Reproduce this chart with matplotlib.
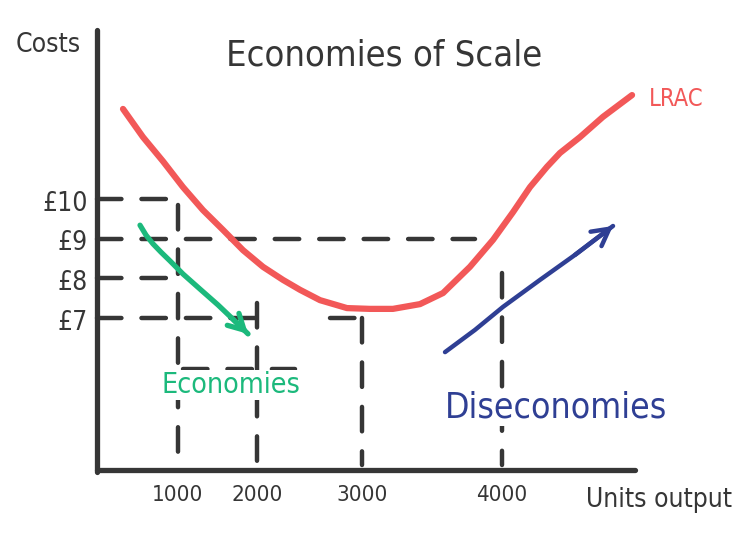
import numpy as np
import matplotlib.pyplot as plt

# values
units_ticks = [1000, 2000, 3000, 4000]
cost_ticks = [10, 9, 8, 7]
cost_labels = ['£10', '£9', '£8', '£7']

# LRAC curve (units, £)
lrac_units = [321, 568, 815, 1063, 1316, 1570, 1823, 2057, 2248, 2410, 2600, 2857,
              3057, 3221, 3414, 3579, 3771, 3936, 4079, 4200, 4321, 4414,
              4557, 4721, 4929]
lrac_cost = [12.27, 11.56, 10.95, 10.30, 9.72, 9.22, 8.71, 8.29, 7.96, 7.71, 7.45, 7.25,
             7.23, 7.23, 7.35, 7.63, 8.29, 8.97, 9.67, 10.30, 10.81, 11.16,
             11.56, 12.07, 12.62]

# arrows
econ_units = [531, 605, 691, 790, 901, 1063, 1278, 1506, 1696, 1886]
econ_cost = [9.34, 9.09, 8.87, 8.66, 8.44, 8.11, 7.73, 7.33, 6.97, 6.60]
dis_units = [3593, 3807, 4007, 4271, 4521, 4793]
dis_cost = [6.14, 6.70, 7.28, 7.96, 8.59, 9.32]

# dashed guide lines as (x0, x1, y0, y1)
guides = [
    (0, 1000, 10, 10), (0, 3807, 9, 9), (0, 1000, 8, 8), (0, 2124, 7, 7),
    (2695, 3000, 7, 7), (1063, 2362, 5.71, 5.71),
    (1000, 1000, 9.85, 3.3), (2000, 2000, 7.38, 3.3),
    (3000, 3000, 7, 3.3), (4000, 4000, 8.13, 3.3),
]

DARK = '#363636'
RED = '#f25858'
GREEN = '#1cb97c'
BLUE = '#2f3f94'

# the hand drawn x axis is not evenly spaced
U_KNOTS = [-2000, 0, 1000, 2000, 3000, 4000, 6000]
P_KNOTS = [-65, 97, 178, 257, 362, 502, 782]


def fwd(u):
    return np.interp(u, U_KNOTS, P_KNOTS)


def inv(p):
    return np.interp(p, P_KNOTS, U_KNOTS)


plt.rcParams['font.family'] = ['DejaVu Sans']
plt.rcParams['font.stretch'] = 'condensed'

fig = plt.figure(figsize=(7.5, 5.45), dpi=100)
ax = fig.add_axes([0, 0, 1, 1])
ax.set_xscale('function', functions=(fwd, inv))
ax.set_xlim(inv(0), inv(750))
ax.set_ylim(7 - 227 / 39.67, 10 + 199 / 39.67)
ax.axis('off')

# axes
ax.plot([0, 0], [3.12, 14.26], color=DARK, lw=3.8, solid_capstyle='round')
ax.plot([0, 4950], [3.17, 3.17], color=DARK, lw=3.8, solid_capstyle='round')

for x0, x1, y0, y1 in guides:
    ax.plot([x0, x1], [y0, y1], color=DARK, lw=3.2, dashes=(5.5, 4.5),
            dash_capstyle='round')

ax.plot(lrac_units, lrac_cost, color=RED, lw=4.5, solid_capstyle='round',
        solid_joinstyle='round')

ax.plot(econ_units, econ_cost, color=GREEN, lw=3.8, solid_capstyle='round',
        solid_joinstyle='round')
ax.annotate('', xy=(econ_units[-1], econ_cost[-1]), xytext=(econ_units[-2], econ_cost[-2]),
            arrowprops=dict(arrowstyle='->,head_length=1.1,head_width=0.6',
                            color=GREEN, lw=3.8, shrinkA=0, shrinkB=0,
                            joinstyle='round', capstyle='round'))
ax.plot(dis_units, dis_cost, color=BLUE, lw=3.2, solid_capstyle='round',
        solid_joinstyle='round')
ax.annotate('', xy=(dis_units[-1], dis_cost[-1]), xytext=(dis_units[-2], dis_cost[-2]),
            arrowprops=dict(arrowstyle='->,head_length=1.2,head_width=0.65',
                            color=BLUE, lw=3.2, shrinkA=0, shrinkB=0,
                            joinstyle='round', capstyle='round'))

# labels
for u in units_ticks:
    ax.text(u, 2.55, str(u), ha='center', va='center', fontsize=16, color=DARK)
for c, lab in zip(cost_ticks, cost_labels):
    ax.text(-110, c - 0.12, lab, ha='right', va='center', fontsize=19, color=DARK)

ax.text(48 / 750, 1 - 45 / 545, 'Costs', transform=ax.transAxes,
        ha='center', va='center', fontsize=19, color=DARK)
ax.text(659 / 750, 1 - 500 / 545, 'Units output', transform=ax.transAxes,
        ha='center', va='center', fontsize=19, color=DARK)
ax.text(384 / 750, 1 - 55 / 545, 'Economies of Scale', transform=ax.transAxes,
        ha='center', va='center', fontsize=26, color=DARK)
ax.text(676 / 750, 1 - 99 / 545, 'LRAC', transform=ax.transAxes,
        ha='center', va='center', fontsize=17, color=RED)
# the dashed verticals stop where the words are written
blank = dict(facecolor='white', edgecolor='none', pad=1)
ax.text(231 / 750, 1 - 385 / 545, 'Economies', transform=ax.transAxes,
        ha='center', va='center', fontsize=20.5, color=GREEN, bbox=blank, zorder=5)
ax.text(556 / 750, 1 - 408 / 545, 'Diseconomies', transform=ax.transAxes,
        ha='center', va='center', fontsize=25.5, color=BLUE, bbox=blank, zorder=5)

fig.savefig('out.png', dpi=100)
